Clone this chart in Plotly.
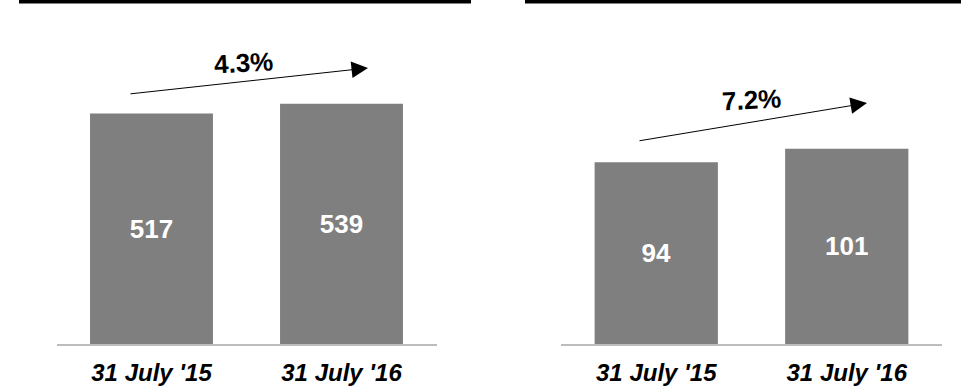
import plotly.graph_objects as go

categories = ["31 July '15", "31 July '16"]
left_values = [517, 539]
right_values = [94, 101]
growth_labels = ["4.3%", "7.2%"]

W, H = 961, 390
FONT = "Liberation Sans, Arial, sans-serif"
BAR = "#7f7f7f"

def px(x):
    return x / W

def py(y):
    return 1 - y / H

fig = go.Figure()
for vals, xa, ya in [(left_values, "x", "y"), (right_values, "x2", "y2")]:
    fig.add_trace(go.Bar(
        x=categories, y=vals, xaxis=xa, yaxis=ya,
        marker=dict(color=BAR, line=dict(width=0)),
        text=[str(v) for v in vals], textposition="inside",
        insidetextanchor="middle",
        textfont=dict(family=FONT, size=26, color="white", weight="bold"),
        showlegend=False, hoverinfo="skip",
    ))

ydom = [py(344), py(20)]
axis_common = dict(showgrid=False, zeroline=False, showline=True,
                   linecolor="#bdbdbd", linewidth=2, ticks="",
                   tickfont=dict(family=FONT, size=24, color="black",
                                 weight="bold", style="italic"),
                   ticklabelstandoff=6)
fig.update_layout(
    width=W, height=H, margin=dict(l=0, r=0, t=0, b=0),
    paper_bgcolor="white", plot_bgcolor="white",
    bargap=0.353,
    xaxis=dict(domain=[px(56.5), px(436.5)], anchor="y", **axis_common),
    xaxis2=dict(domain=[px(561), px(942)], anchor="y2", **axis_common),
    yaxis=dict(domain=ydom, range=[0, 726.6], visible=False),
    yaxis2=dict(domain=ydom, range=[0, 167.6], visible=False, anchor="x2"),
)

# top black rules
fig.add_shape(type="rect", xref="paper", yref="paper",
              x0=px(19), x1=px(471), y0=py(3.5), y1=py(0),
              fillcolor="black", line=dict(width=0))
fig.add_shape(type="rect", xref="paper", yref="paper",
              x0=px(525), x1=px(961), y0=py(3.5), y1=py(0),
              fillcolor="black", line=dict(width=0))

# growth arrows
arrows = [((368, 68), (129, 94), (243, 63)), ((867, 103), (638, 141), (751, 100))]
for (tip, tail, lab), g in zip(arrows, growth_labels):
    fig.add_annotation(xref="paper", yref="paper", x=px(tip[0]), y=py(tip[1]),
                       axref="pixel", ayref="pixel",
                       ax=tail[0] - tip[0], ay=tail[1] - tip[1],
                       text="", showarrow=True, arrowhead=2, arrowsize=3.3,
                       arrowwidth=1.0, arrowcolor="black")
    fig.add_annotation(xref="paper", yref="paper", x=px(lab[0]), y=py(lab[1]),
                       text=g, showarrow=False, textangle=-3,
                       xanchor="center", yanchor="middle",
                       font=dict(family=FONT, size=26, color="black", weight="bold"))

fig.write_html("out.html")
